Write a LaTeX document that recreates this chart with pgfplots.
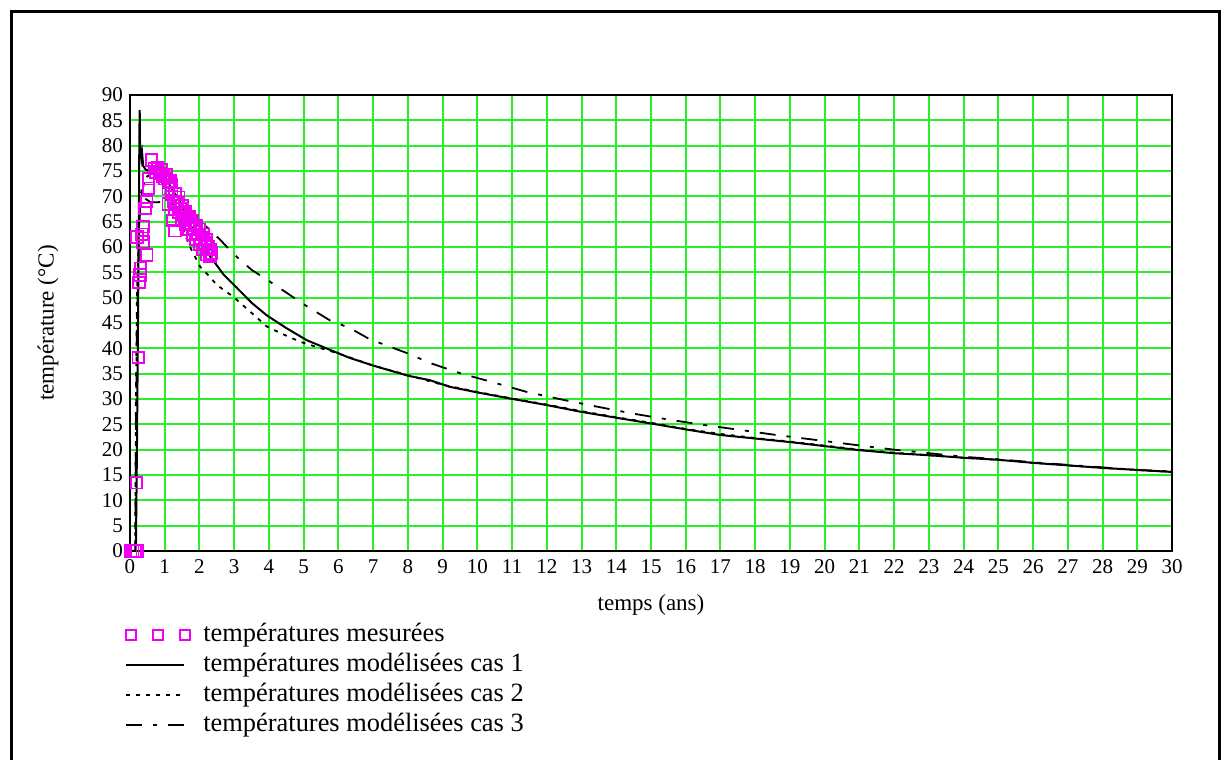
\documentclass[border=0pt]{standalone}
\usepackage{pgfplots}
\pgfplotsset{compat=1.18}
\usepackage{fontspec}
\setmainfont{Liberation Serif}
\definecolor{gridgreen}{RGB}{40,240,40}
\definecolor{meas}{RGB}{240,0,240}
\begin{document}
\begin{tikzpicture}
\path[use as bounding box, fill=white] (0,0) rectangle (610.5pt,380pt);
\draw[line width=1.5pt] (5.5pt,0pt) -- (5.5pt,374pt) -- (609.5pt,374pt) -- (609.5pt,0pt);
\begin{axis}[
  at={(65pt,104.5pt)}, anchor=south west,
  scale only axis, width=521pt, height=228pt,
  xmin=0, xmax=30, ymin=0, ymax=90,
  xtick={0,1,...,30}, ytick={0,5,...,90},
  grid=major, major grid style={draw=gridgreen, line width=1pt},
  major tick length=0pt,
  axis line style={line width=1pt},
  tick label style={font=\fontsize{10.5}{12}\selectfont},
  xticklabel style={text height=7.5pt, text depth=0pt},
  /pgf/number format/assume math mode=true,
  xlabel={temps (ans)}, ylabel={température (°C)},
  label style={font=\fontsize{11.5}{13}\selectfont},
  xlabel style={at={(axis description cs:0.5,-0.118)}, anchor=center},
  ylabel style={at={(axis description cs:-0.0787,0.5)}, anchor=center},
  legend cell align=left,
  legend image code/.code={\draw[#1] (0pt,0pt) -- (29pt,0pt);},
  legend style={draw=none, fill=none, inner sep=0pt, at={(-0.0048,-0.153)}, anchor=north west,
    font=\fontsize{13.2}{15}\selectfont, row sep=1.5pt,
    nodes={inner sep=0pt, text height=10pt, text depth=3.5pt},
    /tikz/every odd column/.append style={column sep=6pt}},
]
\addplot[only marks, mark=square, mark size=2.9pt, mark options={meas, line width=0.9pt},
  legend image code/.code={\foreach \x in {2.5pt,16pt,29.5pt} \draw[meas, line width=1pt] (\x-2.5pt,-2.5pt) rectangle ++(5pt,5pt);}]
coordinates {
(0.02,0) (0.08,0) (0.14,0) (0.2,0) (0.19,13.5) (0.24,38.2)
(0.26,53) (0.29,54.5) (0.3,55.8) (0.2,62) (0.35,62.5) (0.38,61) (0.38,64)
(0.48,58.4) (0.43,67.6) (0.48,69) (0.53,71.6) (0.53,73.5) (0.62,77.2)
(0.7,75.5) (0.75,74.8) (0.8,75.6) (0.85,74.5) (0.9,75.2) (0.95,74) (1.0,73.5) (1.05,74.2)
(1.1,72.8) (1.1,71.5) (1.15,73) (1.2,70.5) (1.2,72.2) (1.25,69) (1.3,70.5) (1.3,67.5)
(1.35,68.8) (1.4,66.8) (1.4,69.8) (1.45,67.5) (1.5,65.5) (1.5,68.2) (1.55,66.5) (1.6,64.5)
(1.6,67) (1.65,65.8) (1.7,63.5) (1.7,66) (1.75,64.8) (1.8,62.5) (1.8,65.2) (1.85,63.8)
(1.9,61.5) (1.9,64.2) (1.95,62.5) (2.0,60.5) (2.0,63.5) (2.05,61.8) (2.1,59.5) (2.1,62.5)
(2.15,60.8) (2.2,58.5) (2.2,61.5) (2.25,60) (2.3,58.2) (2.3,59.5) (2.35,58.8)
(1.3,63.2) (1.24,65.2) (1.1,68.5)
};
\addlegendentry{températures mesurées}
\addplot[black, line width=1pt] coordinates {
(0,0) (0.1,0) (0.17,0) (0.2,20) (0.23,45) (0.26,70) (0.27,83) (0.28,87) (0.29,78) (0.31,79)
(0.33,77.5) (0.35,78.5) (0.38,76) (0.45,75.3) (0.55,75) (0.7,75) (0.85,75.3) (1.0,74)
(1.2,71.5) (1.44,69) (1.7,65) (1.92,62) (2.1,60) (2.39,57.4) (2.7,54.5) (3.07,52)
(3.5,49) (3.94,46.5) (4.5,44) (5.09,41.6) (5.76,39.7) (6.33,38.1) (7,36.6) (8,34.6)
(8.64,33.7) (9.21,32.4) (10,31.3) (10.94,30.1) (12,28.8) (12.96,27.5) (14,26.3)
(14.97,25.2) (16,24) (16.99,22.9) (18,22.2) (19,21.5) (20,20.7) (21,19.9) (22,19.3)
(23,18.9) (24,18.4) (25,18.0) (26,17.4) (27,16.9) (28,16.4) (29,16.0) (30,15.6)
};
\addlegendentry{températures modélisées cas 1}
\addplot[black, line width=0.9pt, dash pattern=on 2pt off 3pt] coordinates {
(0,0) (0.15,0) (0.17,30) (0.2,50) (0.25,62) (0.3,69) (0.4,72.5) (0.5,74) (0.8,74)
(0.9,73) (1.15,68.3) (1.49,64) (1.73,60) (2.02,56.1) (2.3,54.1) (2.5,52.5) (2.97,50.2)
(3.5,47) (3.94,44.3) (4.4,42.8) (4.9,41.3) (5.4,40.2) (5.85,39.3) (6.33,38.2) (7,36.6)
(8,34.7) (9,32.8) (10,31.4) (11,30.1) (12,28.9) (13,27.6) (14,26.4) (15,25.3) (16,24.1)
(17,23.1) (18,22.3) (19,21.6) (20,20.8) (21,20.0) (22,19.4) (23,18.9) (24,18.4)
(25,18.0) (26,17.4) (27,16.9) (28,16.4) (29,16.0) (30,15.6)
};
\addlegendentry{températures modélisées cas 2}
\addplot[black, line width=0.9pt, dash pattern=on 8pt off 5.5pt on 2pt off 5.5pt] coordinates {
(0,0) (0.15,0) (0.18,30) (0.2,45) (0.25,60) (0.3,70) (0.34,71.5) (0.45,69.5) (0.6,68.8)
(1.0,68.9) (1.2,68.5) (1.5,67.5) (2.0,65.3) (2.6,61.4) (3.0,58.5) (3.5,55.5) (4.0,53.3)
(4.5,51) (5.0,48.7) (5.76,45.5) (6.33,44) (6.9,41.8) (8,39) (8.64,37.1) (9.5,35.1)
(10.5,33.2) (11.42,31.4) (12.5,29.8) (13.44,28.5) (14.5,27.1) (15.45,26) (16.5,24.9)
(17.56,23.9) (18.6,22.9) (19.77,21.9) (20.92,20.9) (22,20) (23,19.3) (24,18.6)
(25,18.1) (26,17.5) (27,17) (28,16.5) (29,16.0) (30,15.7)
};
\addlegendentry{températures modélisées cas 3}
\end{axis}
\end{tikzpicture}
\end{document}
